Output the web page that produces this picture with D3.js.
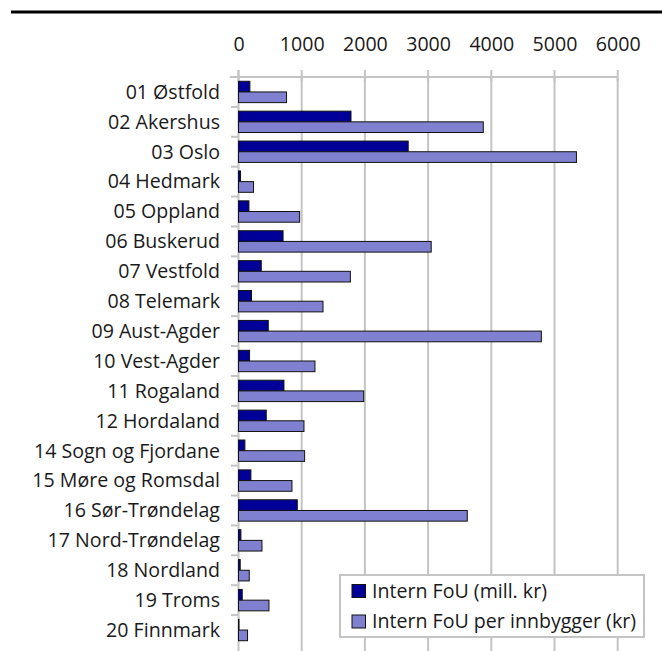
<!DOCTYPE html>
<html>
<head>
<meta charset="utf-8">
<script src="https://cdn.jsdelivr.net/npm/d3@7"></script>
<style>
  html, body { margin: 0; padding: 0; background: #fff; }
  svg { display: block; }
  text { font-family: "Open Sans", "Noto Sans", sans-serif; fill: #1a1a1a; }
</style>
</head>
<body>
<svg id="chart" width="662" height="651"></svg>
<script>
const categories = [
  "01 Østfold", "02 Akershus", "03 Oslo", "04 Hedmark", "05 Oppland",
  "06 Buskerud", "07 Vestfold", "08 Telemark", "09 Aust-Agder", "10 Vest-Agder",
  "11 Rogaland", "12 Hordaland", "14 Sogn og Fjordane", "15 Møre og Romsdal",
  "16 Sør-Trøndelag", "17 Nord-Trøndelag", "18 Nordland", "19 Troms", "20 Finnmark"
];
const seriesNames = ["Intern FoU (mill. kr)", "Intern FoU per innbygger (kr)"];
const internFoU = [180, 1780, 2685, 32, 165, 705, 360, 206, 471, 175, 719, 439, 101, 196, 930, 38, 27, 59, 8];
const internFoUPerInnbygger = [760, 3873, 5347, 238, 967, 3049, 1770, 1337, 4792, 1210, 1981, 1036, 1046, 846, 3620, 371, 170, 482, 143];
const xTicks = [0, 1000, 2000, 3000, 4000, 5000, 6000];
const colors = ["#000099", "#8080d0"];

const svg = d3.select("#chart");
const fs = "19.6px";

// top rule
svg.append("line").attr("x1", 11).attr("x2", 662).attr("y1", 12).attr("y2", 12)
  .attr("stroke", "#000").attr("stroke-width", 3);

const x = d3.scaleLinear().domain([0, 6000]).range([238.5, 617.7]);
const y0 = d3.scaleBand().domain(categories).range([77, 645]).paddingInner(0).paddingOuter(0);
const y1 = d3.scaleBand().domain([0, 1]).range([0, y0.bandwidth()]).paddingInner(0).paddingOuter(0.4);

const grid = "#c4c4c4";

// gridlines
svg.append("g").selectAll("line").data(xTicks.slice(1)).join("line")
  .attr("x1", d => x(d)).attr("x2", d => x(d))
  .attr("y1", 77).attr("y2", 651)
  .attr("stroke", grid).attr("stroke-width", 2);

// top axis
const xAxis = d3.axisTop(x).tickValues(xTicks).tickFormat(d3.format("d")).tickSize(0).tickPadding(0);
const gx = svg.append("g").attr("transform", "translate(0,77)").call(xAxis);
gx.select(".domain").remove();
gx.selectAll("text").attr("y", -26).style("font-size", fs).attr("fill", "#1a1a1a");
// axis line & ticks
svg.append("line").attr("x1", 230).attr("x2", x(6000)).attr("y1", 77).attr("y2", 77)
  .attr("stroke", grid).attr("stroke-width", 2);
svg.append("g").selectAll("line").data(xTicks).join("line")
  .attr("x1", d => x(d)).attr("x2", d => x(d)).attr("y1", 70).attr("y2", 82)
  .attr("stroke", grid).attr("stroke-width", 2);

// y axis line & ticks
svg.append("line").attr("x1", x(0)).attr("x2", x(0)).attr("y1", 70).attr("y2", 651)
  .attr("stroke", grid).attr("stroke-width", 2);
svg.append("g").selectAll("line").data(categories.slice(1)).join("line")
  .attr("x1", 231).attr("x2", x(0)).attr("y1", d => y0(d)).attr("y2", d => y0(d))
  .attr("stroke", grid).attr("stroke-width", 2);

// category labels
svg.append("g").selectAll("text").data(categories).join("text")
  .attr("x", 220).attr("y", d => y0(d) + y0.bandwidth() / 2)
  .attr("text-anchor", "end").attr("dy", "0.35em")
  .style("font-size", fs)
  .text(d => d);

// bars
const rows = categories.map((c, i) => ({ c, v: [internFoU[i], internFoUPerInnbygger[i]] }));
const gBars = svg.append("g");
rows.forEach(r => {
  r.v.forEach((v, k) => {
    gBars.append("rect")
      .attr("x", x(0))
      .attr("y", y0(r.c) + y1(k))
      .attr("width", Math.max(0, x(v) - x(0)))
      .attr("height", y1.bandwidth())
      .attr("fill", colors[k])
      .attr("stroke", "#111").attr("stroke-width", 1);
  });
});

// legend
const lg = svg.append("g");
lg.append("rect").attr("x", 340).attr("y", 575).attr("width", 304).attr("height", 62)
  .attr("fill", "#fff").attr("stroke", grid).attr("stroke-width", 2);
seriesNames.forEach((s, k) => {
  const cy = 591 + k * 30.5;
  lg.append("rect").attr("x", 352).attr("y", cy - 6.5).attr("width", 13.5).attr("height", 13)
    .attr("fill", colors[k]).attr("stroke", "#111").attr("stroke-width", 1);
  lg.append("text").attr("x", 372).attr("y", cy).attr("dy", "0.35em")
    .style("font-size", fs).text(s);
});
</script>
</body>
</html>
